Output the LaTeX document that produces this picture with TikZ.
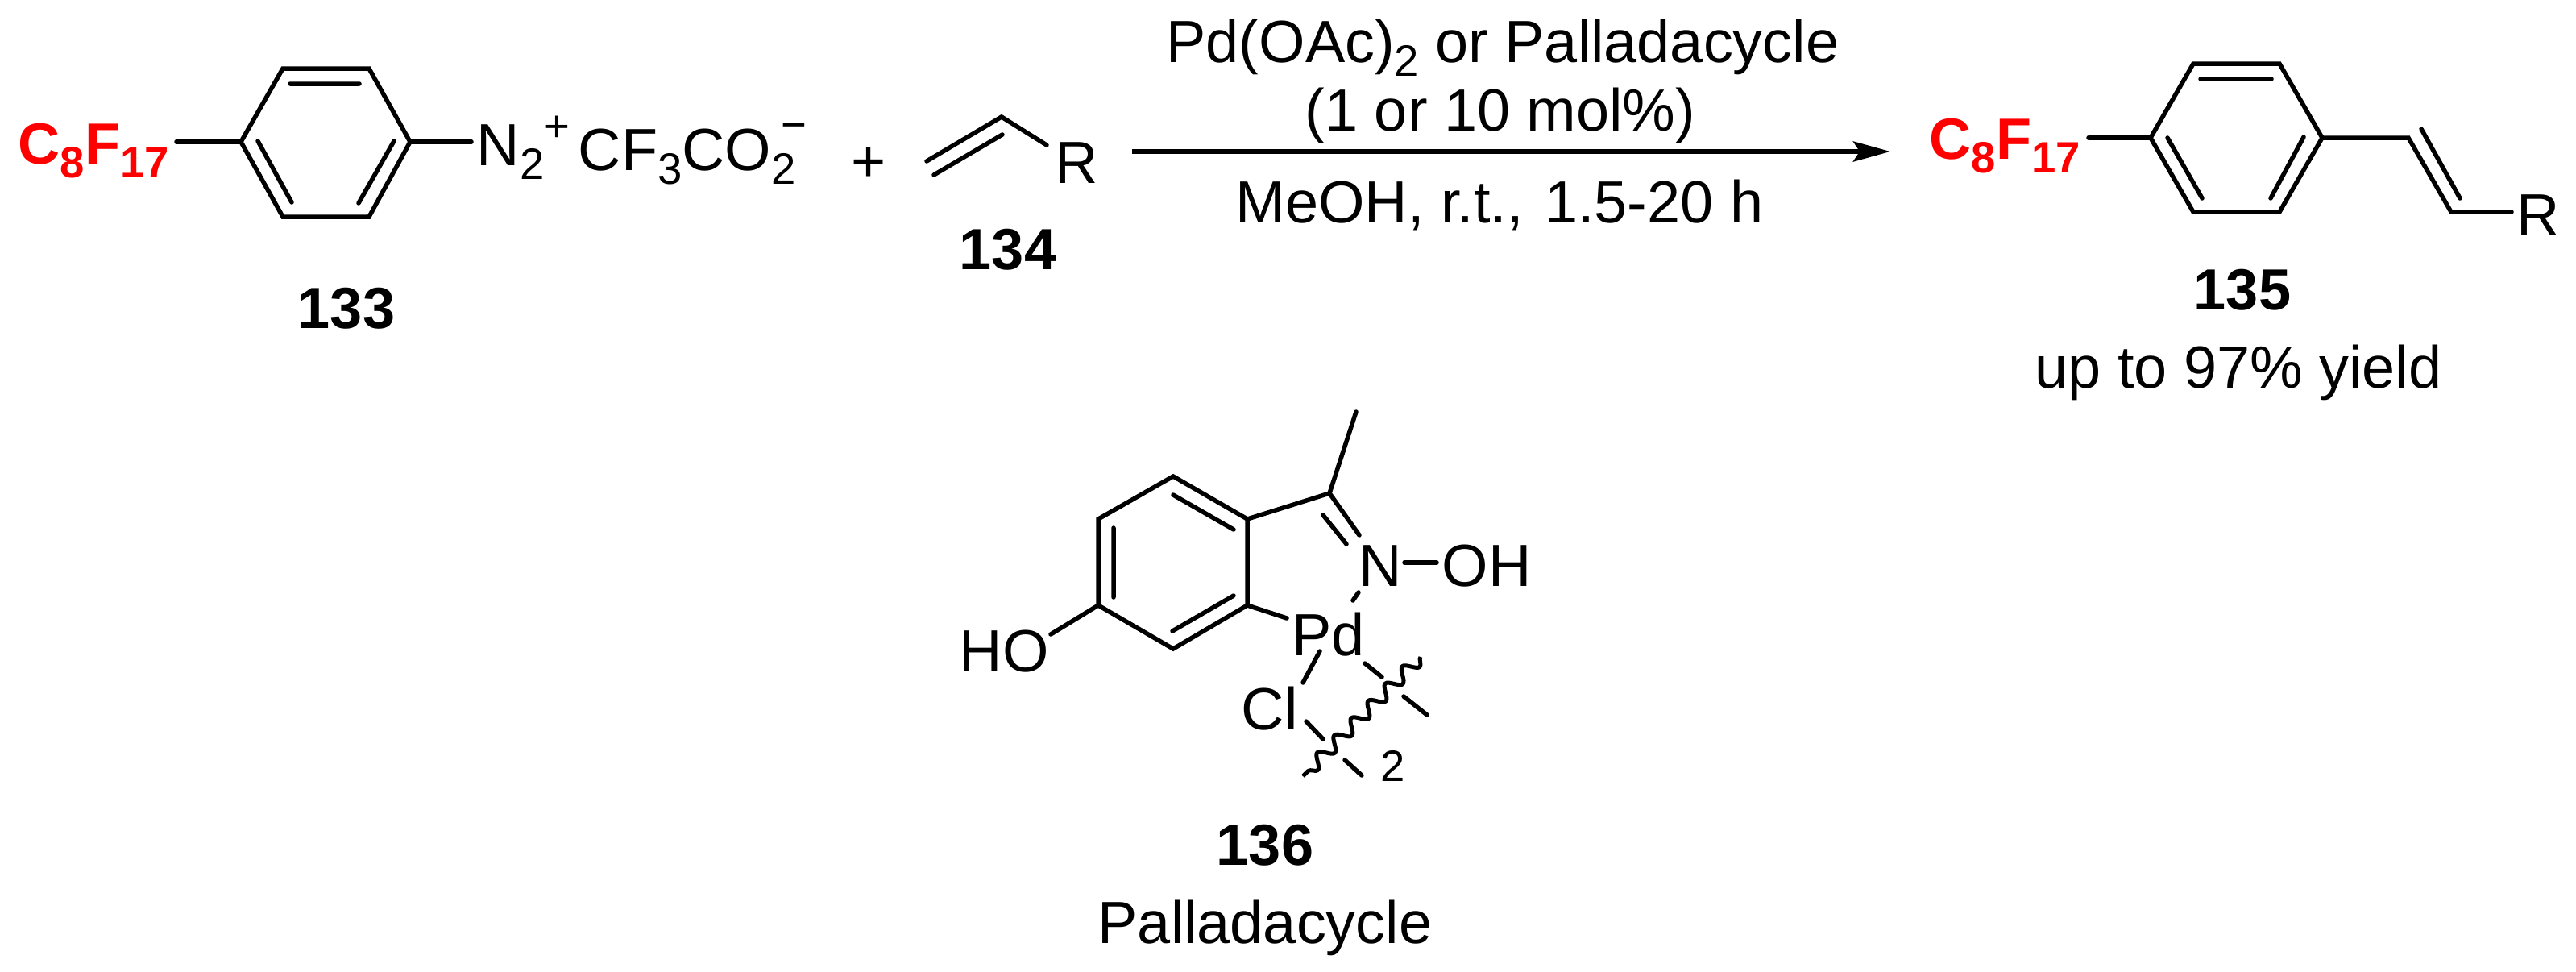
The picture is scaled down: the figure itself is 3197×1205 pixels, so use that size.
\documentclass[tikz,border=0pt]{standalone}
\usepackage{fontspec}
\setmainfont{Liberation Sans}
\usepackage{tikz}
\usetikzlibrary{arrows.meta}
\usetikzlibrary{decorations.pathmorphing}
\newcommand{\subfont}{\fontsize{15.5}{15.5}\selectfont}
\newcommand{\sbs}[1]{\raisebox{-0.17cm}{\subfont #1}}
\newcommand{\sps}[2]{\raisebox{#1}{\subfont #2}}
\tikzset{bond/.style={line width=0.055cm,line cap=round,line join=miter}}
\tikzset{txt/.style={inner sep=0pt,anchor=base,font=\fontsize{21}{24}\selectfont}}
\tikzset{lab/.style={txt,font=\fontsize{20.5}{24}\selectfont\bfseries}}
\tikzset{chain/.style={lab,red,anchor=base west}}
\begin{document}
\begin{tikzpicture}[x=0.01cm,y=-0.01cm]
            \useasboundingbox (0,0) rectangle (3197,1205);
            \coordinate (a1) at (299,176);
            \coordinate (a2) at (351,85);
            \coordinate (a3) at (458,85);
            \coordinate (a4) at (509,176);
            \coordinate (a5) at (458,269);
            \coordinate (a6) at (351,269);
            \coordinate (af) at (219,176);
            \coordinate (an) at (585,176);
            \draw[bond] (a1)--(a2)--(a3)--(a4)--(a5)--(a6)--cycle;
            \draw[bond] (af)--(a1) (a4)--(an);
            \draw[bond] (360,104)--(446,104) (320,175)--(362,251) (489,175)--(445,252);
            \node (chaina) [chain] at (22,203) {C\sbs{8}F\sbs{17}};
            \node (diazo) [txt,anchor=base west] at (591,205) {N\sbs{2}\sps{0.29cm}{+}};
            \node (anion) [txt,anchor=base west] at (717,211) {CF\sbs{3}CO\sbs{2}\kern-0.18cm\sps{0.37cm}{−}};
            \node (plus) [txt] at (1078,225) {+};
            \node (lab133) [lab] at (430,407) {133};
            \coordinate (v1) at (1150,200);
            \coordinate (v2) at (1243,145);
            \coordinate (v3) at (1299,180);
            \draw[bond] (v1)--(v2)--(v3);
            \draw[bond] (1159,217)--(1244,167);
            \node (ra) [txt,anchor=base west] at (1309,227) {R};
            \node (lab134) [lab] at (1251,334) {134};
            \coordinate (ar1) at (1405,188);
            \coordinate (ar2) at (2346,188);
            \draw[line width=0.057cm,-{Stealth[length=0.46cm,width=0.25cm,inset=0.08cm]}] (ar1)--(ar2);
            \node (cond1) [txt] at (1865,77) {Pd(OAc)\sbs{2} or Palladacycle};
            \node (cond2) [txt] at (1862,162) {(1 or 10 mol\%)};
            \node (cond3) [txt] at (1861,276) {MeOH, r.t.,\ \kern0.06cm 1.5-20 h};
            \coordinate (b1) at (2669,171);
            \coordinate (b2) at (2722,79);
            \coordinate (b3) at (2829,79);
            \coordinate (b4) at (2882,171);
            \coordinate (b5) at (2829,263);
            \coordinate (b6) at (2722,263);
            \coordinate (bf) at (2592,171);
            \coordinate (e1) at (2989,171);
            \coordinate (e2) at (3042,263);
            \coordinate (e3) at (3117,263);
            \draw[bond] (b1)--(b2)--(b3)--(b4)--(b5)--(b6)--cycle;
            \draw[bond] (bf)--(b1);
            \draw[bond] (b4)--(e1)--(e2)--(e3);
            \draw[bond] (2731,98)--(2819,98) (2690,171)--(2733,246) (2859,170)--(2818,246);
            \draw[bond] (3005,160)--(3053,246);
            \node (chainb) [chain] at (2394,197) {C\sbs{8}F\sbs{17}};
            \node (rb) [txt,anchor=base west] at (3123,292) {R};
            \node (lab135) [lab] at (2783,384) {135};
            \node (yield) [txt] at (2778,481) {up to 97\% yield};
            \coordinate (c1) at (1456,591);
            \coordinate (c2) at (1548,644);
            \coordinate (c3) at (1548,751);
            \coordinate (c4) at (1456,805);
            \coordinate (c5) at (1363,751);
            \coordinate (c6) at (1363,644);
            \coordinate (me) at (1683,511);
            \coordinate (cn) at (1650,612);
            \draw[bond] (c1)--(c2)--(c3)--(c4)--(c5)--(c6)--cycle;
            \draw[bond] (c2)--(cn)--(me);
            \draw[bond] (cn)--(1687,664) (1642,639)--(1671,675);
            \draw[bond] (1456,614)--(1531,657) (1382,655)--(1382,741) (1531,739)--(1455,783);
            \draw[bond] (c5)--(1304,787);
            \draw[bond] (c3)--(1597,767);
            \draw[bond] (1743,698)--(1783,698);
            \draw[bond] (1686,735)--(1679,745);
            \draw[bond] (1638,808)--(1617,847);
            \draw[bond] (1694,823)--(1715,840) (1742,864)--(1771,887);
            \draw[bond] (1621,895)--(1642,917) (1669,943)--(1690,962);
            \coordinate (w1) at (1763,815);
            \coordinate (w2) at (1617,963);
            \draw[line width=0.05cm,line join=round,decorate,decoration={snake,amplitude=0.08cm,segment length=0.3cm}] (w1)--(w2);
            \node (ho) [txt,anchor=base west] at (1190,833) {HO};
            \node (nox) [txt,anchor=base west] at (1686,727) {N};
            \node (oh) [txt,anchor=base west] at (1789,727) {OH};
            \node (pd) [txt,anchor=base west] at (1603,813) {Pd};
            \node (cl) [txt,anchor=base west] at (1540,905) {Cl};
            \node (two) [txt,font=\subfont,anchor=base west] at (1713,969) {2};
            \node (lab136) [lab] at (1570,1073) {136};
            \node (pal) [txt] at (1570,1170) {Palladacycle};
        \end{tikzpicture}
\end{document}
